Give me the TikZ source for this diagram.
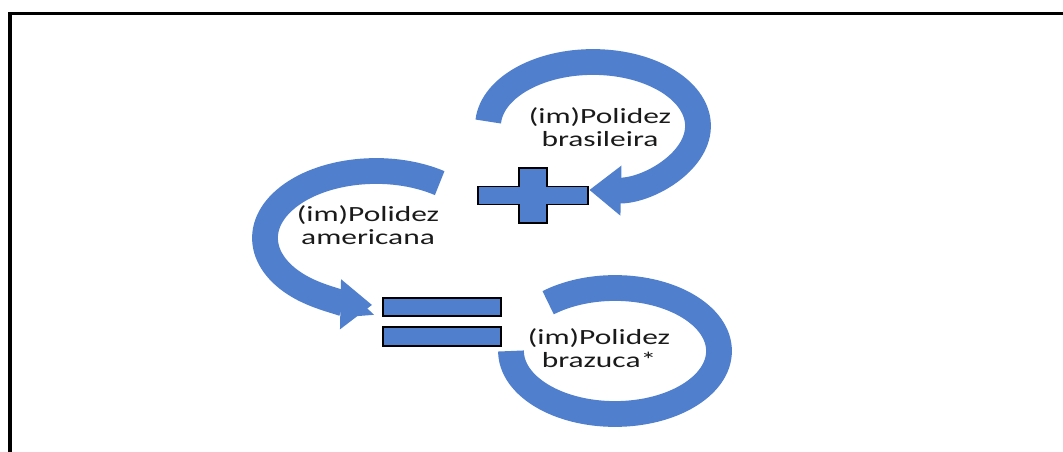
\documentclass[tikz,border=0pt]{standalone}
\usepackage{fontspec}
\setmainfont{Carlito}
\usetikzlibrary{arrows.meta, positioning}
\definecolor{ptblue}{HTML}{4F7FCD}
\definecolor{txtdark}{HTML}{1A1A1A}

\begin{document}
\begin{tikzpicture}[x=0.03cm, y=0.03cm,
  band/.style={draw=ptblue, line width=22pt},
  tipped/.style={band, -{Triangle[length=27pt, width=41pt]}},
  polidez/.style={font=\fontsize{18.5}{19.5}\selectfont, text=txtdark,
                  align=center, xscale=1.45, inner sep=0pt},
  sign/.style={fill=ptblue, draw=black, line width=1.6pt},
  eqbar/.style={sign, minimum width=100pt, minimum height=16pt, inner sep=0pt}]

% Page and frame
\useasboundingbox (0,0) rectangle (1063,452);
\clip (0,0) rectangle (1063,452);
\draw[black, line width=2.6pt] (10,438.5) rectangle (1100,-40);

% Centres of the loops
\coordinate (brasC) at (593,326);
\coordinate (amerC) at (376,214);
\coordinate (brazC) at (615,101);
\coordinate (plus) at (533,256.5);

% Texts
\node[polidez] (bras) at (600,325) {(im)Polidez\\brasileira};
\node[polidez] (amer) at (368,227) {(im)Polidez\\americana};
\node[polidez] (braz) at (599,104) {(im)Polidez\\brazuca*};

% Loops
\draw[tipped] (brasC) ++(176:105 and 64)
  arc[start angle=176, end angle=-92, x radius=105, y radius=64];
\draw[tipped] (amerC) ++(55:111 and 67)
  arc[start angle=55, end angle=268, x radius=111, y radius=67];
\draw[band] (brazC) ++(180:104 and 63)
  arc[start angle=180, end angle=490, x radius=104, y radius=63];

% Plus
\draw[sign, shift={(plus)}] (-55,9) -- (-14,9) -- (-14,27.5) -- (14,27.5)
  -- (14,9) -- (55,9) -- (55,-9) -- (14,-9) -- (14,-27.5) -- (-14,-27.5)
  -- (-14,-9) -- (-55,-9) -- cycle;

% Equals
\node[eqbar] (eqtop) at (442,145) {};
\node[eqbar, below=7.5pt of eqtop] (eqbot) {};

\end{tikzpicture}
\end{document}
